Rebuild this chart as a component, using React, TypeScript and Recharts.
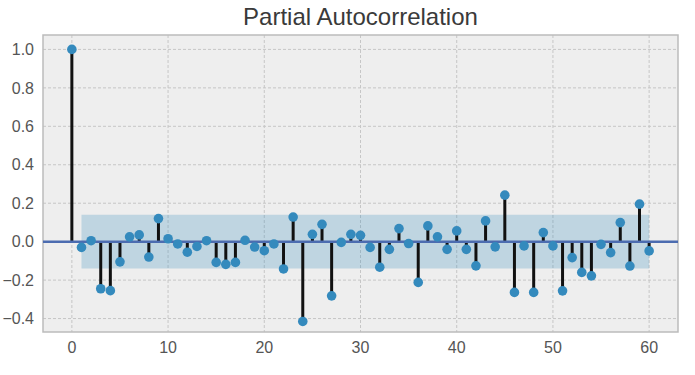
import React from "react"
import {
  ComposedChart,
  Scatter,
  XAxis,
  YAxis,
  CartesianGrid,
  ReferenceLine,
  ReferenceArea,
} from "recharts"

// partial autocorrelation per lag (lag = index)
const PACF = [
  1.0, -0.03, 0.005, -0.245, -0.255, -0.105, 0.025, 0.035, -0.08, 0.12,
  0.015, -0.012, -0.055, -0.025, 0.005, -0.108, -0.118, -0.108, 0.007, -0.028,
  -0.047, -0.012, -0.142, 0.128, -0.415, 0.038, 0.09, -0.282, -0.004, 0.038,
  0.033, -0.03, -0.133, -0.04, 0.068, -0.01, -0.212, 0.082, 0.025, -0.04,
  0.056, -0.04, -0.126, 0.108, -0.027, 0.242, -0.264, -0.022, -0.264, 0.047,
  -0.022, -0.256, -0.083, -0.16, -0.178, -0.014, -0.057, 0.099, -0.127, 0.195,
  -0.048,
]

const X_TICKS = [0, 10, 20, 30, 40, 50, 60]
const Y_TICKS = [-0.4, -0.2, 0.0, 0.2, 0.4, 0.6, 0.8, 1.0]
const CONF_BOUND = 0.14
const BAND_FROM = 1
const BAND_TO = 60

const data = PACF.map((v, i) => ({ lag: i, value: v }))

const FONT = "'Liberation Sans', Arial, sans-serif"
const MARKER = "#348ABD"

const fmtY = (v: number) => {
  const s = Math.abs(v).toFixed(1)
  return v < -1e-9 ? `\u2212${s}` : s
}

const Dot = (props: any) => {
  const { cx, cy } = props
  if (cx == null || cy == null) return null
  return <circle cx={cx} cy={cy} r={4.8} fill={MARKER} />
}

export default function App() {
  return (
    <div style={{ position: "absolute", left: 0, top: 0, width: 695, height: 375, background: "#fff" }}>
      <div
        style={{
          position: "absolute",
          left: 43,
          top: 5,
          width: 635,
          textAlign: "center",
          fontFamily: FONT,
          fontSize: 24,
          lineHeight: "24px",
          color: "#3a3a3a",
        }}
      >
        Partial Autocorrelation
      </div>
      <ComposedChart
        width={695}
        height={375}
        data={data}
        margin={{ top: 35, right: 17, bottom: 0, left: 0 }}
      >
        <CartesianGrid
          fill="#eeeeee"
          stroke="#c6c6c6"
          strokeDasharray="3 2"
          verticalValues={X_TICKS}
          horizontalValues={Y_TICKS}
        />
        <XAxis
          dataKey="lag"
          type="number"
          domain={[-3, 63]}
          ticks={X_TICKS}
          height={43}
          tickLine={false}
          axisLine={false}
          tickSize={0}
          tickMargin={10}
          tick={{ fill: "#555", fontSize: 16, fontFamily: FONT }}
          allowDataOverflow
        />
        <YAxis
          type="number"
          domain={[-0.47, 1.075]}
          ticks={Y_TICKS}
          width={43}
          tickLine={false}
          axisLine={false}
          tickSize={0}
          tickMargin={9}
          tickFormatter={fmtY}
          tick={{ fill: "#555", fontSize: 16, fontFamily: FONT }}
          allowDataOverflow
        />
        <ReferenceArea
          x1={BAND_FROM}
          x2={BAND_TO}
          y1={-CONF_BOUND}
          y2={CONF_BOUND}
          fill={MARKER}
          fillOpacity={0.25}
          stroke="none"
        />
        {data.map((d) => (
          <ReferenceLine
            key={`stem-${d.lag}`}
            segment={[
              { x: d.lag, y: 0 },
              { x: d.lag, y: d.value },
            ]}
            stroke="#111"
            strokeWidth={3}
          />
        ))}
        <ReferenceLine y={0} stroke="#4c6cb0" strokeWidth={2.5} />
        <ReferenceArea
          x1={-3}
          x2={63}
          y1={-0.47}
          y2={1.075}
          fill="none"
          stroke="#bcbcbc"
          strokeWidth={1.5}
        />
        <Scatter dataKey="value" shape={<Dot />} isAnimationActive={false} />
      </ComposedChart>
    </div>
  )
}
